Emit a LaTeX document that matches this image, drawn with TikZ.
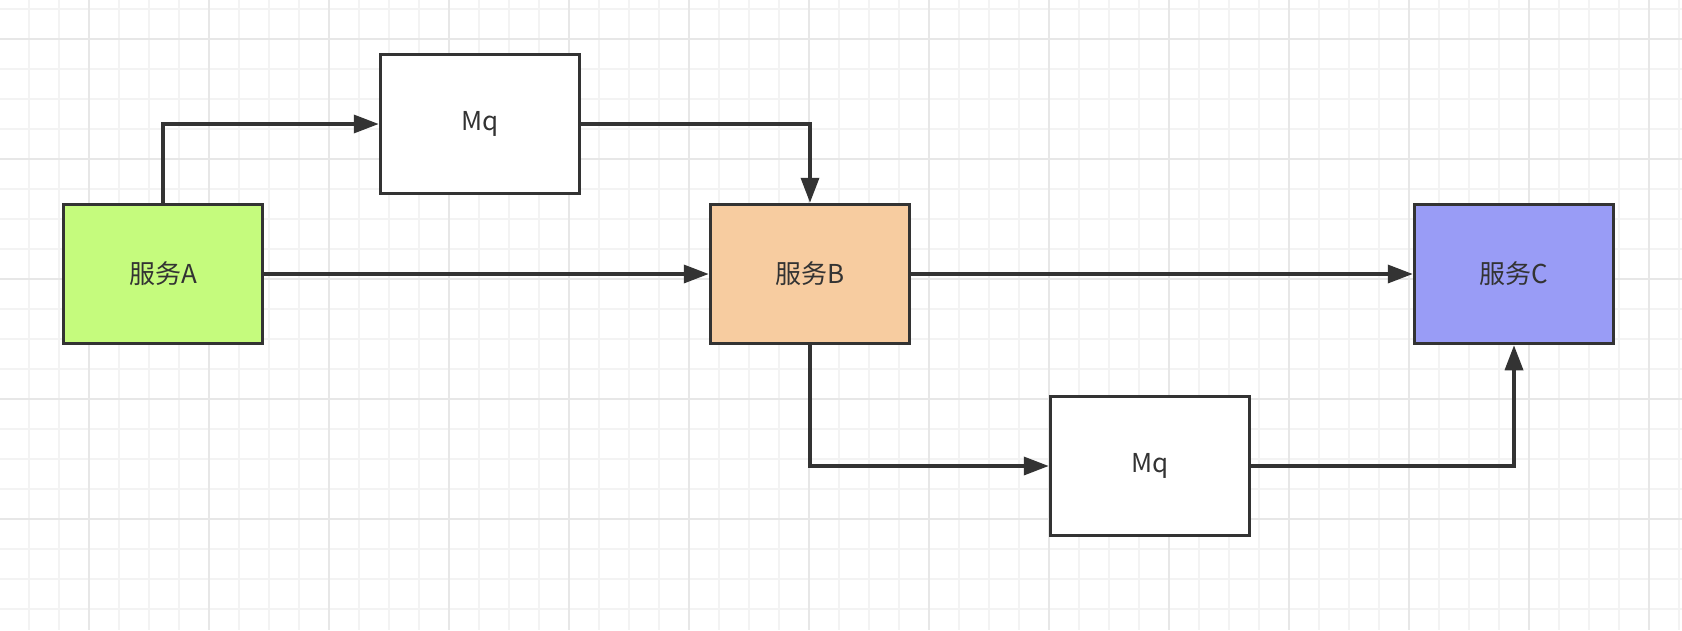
\documentclass[tikz,border=0pt]{standalone}
\usepackage{fontspec}
\setmainfont{Noto Sans CJK SC}
\usetikzlibrary{arrows.meta}
\definecolor{ink}{HTML}{333333}
\definecolor{gridminor}{RGB}{243,243,243}
\definecolor{gridmajor}{RGB}{231,231,231}
\definecolor{fillA}{RGB}{197,251,125}
\definecolor{fillB}{RGB}{247,204,160}
\definecolor{fillC}{RGB}{153,156,246}
\begin{document}
\begin{tikzpicture}[x=1pt,y=-1pt,
  box/.style={draw=ink,line width=3.5pt,minimum width=199pt,minimum height=139pt,inner sep=0pt,
    font=\fontsize{26}{28}\selectfont,text=ink},
  conn/.style={draw=ink,line width=3.5pt,-{Triangle[length=25pt,width=18pt]}},
  minorline/.style={draw=gridminor,line width=1.5pt},
  majorline/.style={draw=gridmajor,line width=1.5pt}]
\fill[white] (0,0) rectangle (1682,630);
\useasboundingbox (0,0) rectangle (1682,630);
\foreach \x in {29,59,...,1679} \draw[minorline] (\x,0) -- (\x,630);
\foreach \y in {9,39,...,629} \draw[minorline] (0,\y) -- (1682,\y);
\foreach \x in {89,209,...,1679} \draw[majorline] (\x,0) -- (\x,630);
\foreach \y in {39,159,...,629} \draw[majorline] (0,\y) -- (1682,\y);

\node[box,fill=fillA] (A) at (163,274) {\raisebox{-2pt}{服务A}};
\node[box,fill=white] (mq1) at (480,124) {\raisebox{-2pt}{Mq}};
\node[box,fill=fillB] (B) at (810,274) {\raisebox{-2pt}{服务B}};
\node[box,fill=fillC] (C) at (1514,274) {\raisebox{-2pt}{服务C}};
\node[box,fill=white] (mq2) at (1150,466) {\raisebox{-2pt}{Mq}};

\draw[conn] (A.north) |- (mq1.west);
\draw[conn] (A.east) -- (B.west);
\draw[conn] (mq1.east) -| (B.north);
\draw[conn] (B.east) -- (C.west);
\draw[conn] (B.south) |- (mq2.west);
\draw[conn] (mq2.east) -| (C.south);
\end{tikzpicture}
\end{document}
